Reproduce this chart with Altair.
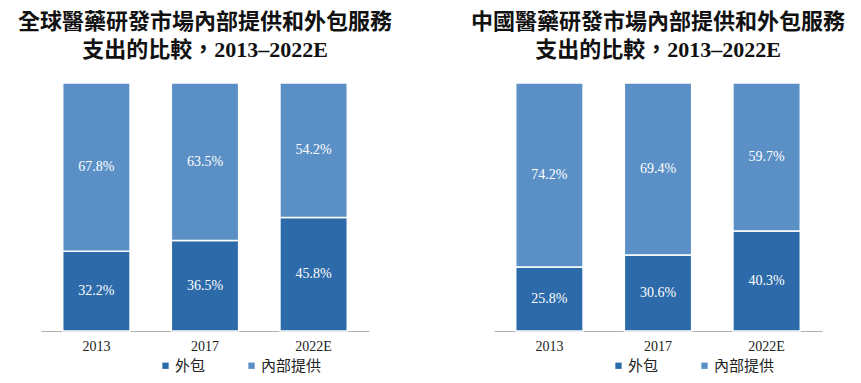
import altair as alt
import pandas as pd

years = ["2013", "2017", "2022E"]
series = ["外包", "內部提供"]
global_outsource = [32.2, 36.5, 45.8]
global_inhouse = [67.8, 63.5, 54.2]
china_outsource = [25.8, 30.6, 40.3]
china_inhouse = [74.2, 69.4, 59.7]

title_global = ["全球醫藥研發市場內部提供和外包服務", "支出的比較，2013–2022E"]
title_china = ["中國醫藥研發市場內部提供和外包服務", "支出的比較，2013–2022E"]

colors = ["#2c6aa9", "#5a90c6"]
FONT = "Liberation Serif, 'Noto Sans CJK TC', serif"


def build(outs, inh):
    rows = []
    for y, o, i in zip(years, outs, inh):
        rows.append({"year": y, "series": series[0], "order": 0,
                     "start": 0, "end": o, "mid": o / 2, "label": f"{o:.1f}%"})
        rows.append({"year": y, "series": series[1], "order": 1,
                     "start": o, "end": o + i, "mid": o + i / 2, "label": f"{i:.1f}%"})
    return pd.DataFrame(rows)


def panel(outs, inh, title, lx):
    df = build(outs, inh)
    x = alt.X("year:N", sort=years, title=None,
              scale=alt.Scale(paddingInner=0.38, paddingOuter=0.2),
              axis=alt.Axis(labelAngle=0, ticks=False, domainColor="#b0b0b0",
                            labelFont=FONT, labelFontSize=14, labelColor="#222",
                            labelPadding=8))
    y = alt.Y("start:Q", scale=alt.Scale(domain=[0, 100]), axis=None)
    bars = alt.Chart(df).mark_bar(stroke="white", strokeWidth=1.5).encode(
        x=x, y=y, y2="end:Q",
        color=alt.Color("series:N", sort=series,
                        scale=alt.Scale(domain=series, range=colors),
                        legend=alt.Legend(title=None, orient="none", direction="horizontal",
                                          legendX=lx, legendY=275,
                                          symbolType="square", symbolSize=40,
                                          symbolStrokeWidth=0,
                                          labelFont="'Noto Sans CJK TC'", labelFontSize=15,
                                          labelColor="#222", columnPadding=38,
                                          labelOffset=2)),
    )
    text = alt.Chart(df).mark_text(color="white", font=FONT, fontSize=14).encode(
        x=alt.X("year:N", sort=years),
        y=alt.Y("mid:Q"),
        text="label:N",
    )
    return alt.layer(bars, text).properties(
        width=328, height=248,
        title=alt.TitleParams(title, font=FONT, fontSize=22, fontWeight="bold",
                              color="#111", anchor="middle", lineHeight=28, offset=20),
    )


left = panel(global_outsource, global_inhouse, title_global, 117)
right = panel(china_outsource, china_inhouse, title_china, 117)

chart = alt.hconcat(left, right, spacing=125, bounds="flush").resolve_scale(
    color="independent"
).properties(
    padding={"left": 9, "top": 3, "right": 5, "bottom": 5}
).configure_view(stroke=None)

chart.save("out.html", embed_options={"renderer": "svg", "actions": False})
